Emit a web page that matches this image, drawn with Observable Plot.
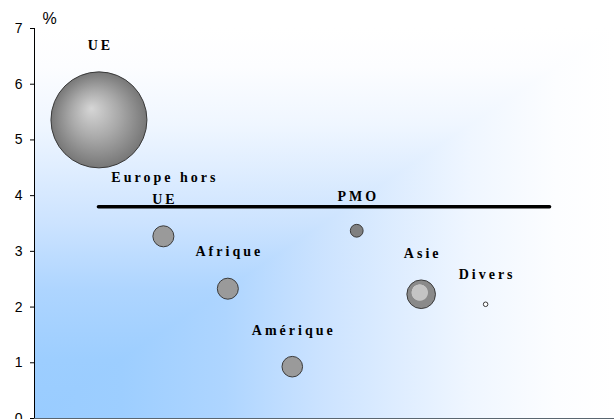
<!DOCTYPE html>
<html>
<head>
<meta charset="utf-8">
<script src="https://cdn.jsdelivr.net/npm/d3@7"></script>
<script src="https://cdn.jsdelivr.net/npm/@observablehq/plot@0.6"></script>
<style>
  html, body { margin: 0; padding: 0; background: #fff; }
</style>
</head>
<body>
<div id="chart"></div>
<script>
// ---- data ----
const regions = ["UE", "Europe hors\nUE", "Afrique", "Amérique", "PMO", "Asie", "Divers"];
const xPos    = [1, 2, 3, 4, 5, 6, 7];
const growth  = [5.36, 3.27, 2.33, 0.93, 3.37, 2.23, 2.05];   // %
const share   = [62, 2.97, 2.97, 2.85, 1.10, 5.5, 0.14];      // bubble size
const labelY  = [6.745, 4.175, 3.05, 1.63, 4.03, 3.01, 2.62];  // label level (%)
const pmoAverage = 3.8;
const lineFrom = 1;
const lineTo = 8;
const yTicks = [0, 1, 2, 3, 4, 5, 6, 7];

const data = regions.map((name, i) => ({
  name, x: xPos[i], y: growth[i], share: share[i], ly: labelY[i]
}));

// ---- styles ----
const specialFill = { "UE": "url(#gUE)", "Asie": "url(#gAsie)", "PMO": "#808080", "Divers": "#ffffff" };
const fillFor = d => specialFill[d.name] ?? "#9a9a9a";

// "from corner" background panel: horizontal and vertical fades combined with lighten
function panel(index, scales, values, dimensions) {
  const { width, height, marginLeft, marginRight, marginTop, marginBottom } = dimensions;
  const ns = "http://www.w3.org/2000/svg";
  const g = document.createElementNS(ns, "g");
  g.setAttribute("style", "isolation:isolate");
  for (const [id, blend] of [["bgH", null], ["bgV", "lighten"]]) {
    const r = document.createElementNS(ns, "rect");
    r.setAttribute("x", marginLeft);
    r.setAttribute("y", marginTop);
    r.setAttribute("width", width - marginLeft - marginRight);
    r.setAttribute("height", height - marginTop - marginBottom);
    r.setAttribute("fill", `url(#${id})`);
    if (blend) r.setAttribute("style", `mix-blend-mode:${blend}`);
    g.appendChild(r);
  }
  return g;
}

const svg = Plot.plot({
  width: 614,
  height: 419,
  marginLeft: 34,
  marginRight: 0,
  marginTop: 28,
  marginBottom: 1,
  style: { fontFamily: "Liberation Sans, Arial, sans-serif", fontSize: "14px", background: "transparent", color: "#000" },
  x: { domain: [0, 9], axis: null },
  y: { domain: [0, 7], label: null },
  r: { type: "sqrt", domain: [0, 62], range: [0, 48] },
  color: { type: "identity" },
  marks: [
    panel,
    Plot.ruleY([0], { stroke: "#5a6670", strokeWidth: 1.2 }),
    Plot.ruleX([0], { y1: 0, y2: 7, stroke: "#000" }),
    Plot.axisY({ ticks: yTicks, tickSize: 4, tickPadding: 8, fontSize: 14, label: null, tickFormat: d => String(d) }),
    Plot.ruleY([pmoAverage], { x1: lineFrom, x2: lineTo, stroke: "#000", strokeWidth: 3.5, strokeLinecap: "round" }),
    Plot.dot(data, { x: "x", y: "y", r: "share", fill: fillFor, stroke: "#3a3a3a", strokeWidth: 1 }),
    Plot.text(data, {
      x: "x", y: "ly", text: "name",
      fontFamily: "Liberation Serif, Times New Roman, serif",
      fontWeight: "bold", fontSize: 14, lineAnchor: "middle", lineHeight: 1.55,
      textAnchor: "middle", dx: 1.5, fill: "#000"
    }),
    Plot.text(["%"], { frameAnchor: "top-left", dx: 8, dy: -9.4, textAnchor: "start", lineAnchor: "middle", fontSize: 16, fill: "#000" })
  ]
});

// gradients
const defs = d3.select(svg).insert("defs", ":first-child");
const fadeStops = [[0, "#99ccff"], [0.15, "#9dceff"], [0.33, "#aed5ff"], [0.5, "#cce3fe"], [0.75, "#eff6ff"], [0.9, "#fcfdff"], [1, "#ffffff"]];
const bgH = defs.append("linearGradient").attr("id", "bgH")
  .attr("x1", 0).attr("y1", 0).attr("x2", 1).attr("y2", 0);
const bgV = defs.append("linearGradient").attr("id", "bgV")
  .attr("x1", 0).attr("y1", 1).attr("x2", 0).attr("y2", 0);
for (const grad of [bgH, bgV])
  fadeStops.forEach(([o, c]) => grad.append("stop").attr("offset", o).attr("stop-color", c));

const gUE = defs.append("radialGradient").attr("id", "gUE")
  .attr("cx", 0.5).attr("cy", 0.5).attr("r", 0.5).attr("fx", 0.42).attr("fy", 0.38);
gUE.append("stop").attr("offset", 0).attr("stop-color", "#d6d6d6");
gUE.append("stop").attr("offset", 0.5).attr("stop-color", "#a9a9a9");
gUE.append("stop").attr("offset", 1).attr("stop-color", "#777777");

const gAsie = defs.append("radialGradient").attr("id", "gAsie")
  .attr("cx", 0.5).attr("cy", 0.5).attr("r", 0.5).attr("fx", 0.38).attr("fy", 0.36);
gAsie.append("stop").attr("offset", 0).attr("stop-color", "#c4c4c4");
gAsie.append("stop").attr("offset", 0.55).attr("stop-color", "#c4c4c4");
gAsie.append("stop").attr("offset", 0.6).attr("stop-color", "#8a8a8a");
gAsie.append("stop").attr("offset", 1).attr("stop-color", "#8a8a8a");

// letter spacing for the region labels (first text mark)
d3.select(svg).selectAll('g[aria-label="text"]').filter((d, i) => i === 0)
  .selectAll("text").style("letter-spacing", "3px");

document.getElementById("chart").appendChild(svg);
</script>
</body>
</html>
